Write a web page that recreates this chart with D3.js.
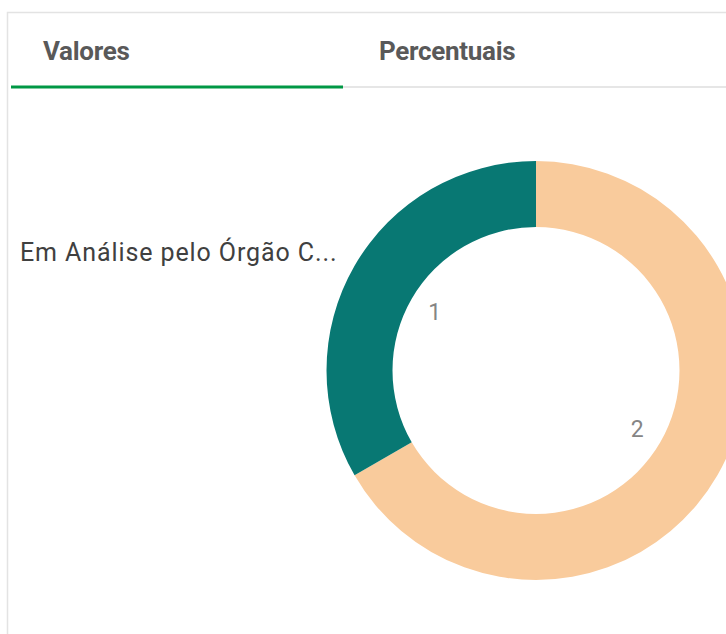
<!DOCTYPE html>
<html>
<head>
<meta charset="utf-8">
<script src="https://cdn.jsdelivr.net/npm/d3@7"></script>
<style>
  body { margin: 0; background: #fff; }
  svg { display: block; }
</style>
</head>
<body>
<div id="chart"></div>
<script>
// tabs, legend and slice data
var tabs = ["Valores", "Percentuais"];
var legendLabel = "Em Análise pelo Órgão C...";
var categories = ["b", "a"];
var values = [2, 1];
var colors = ["#f9cb9c", "#087873"];

var width = 726, height = 634;
var cx = 536, cy = 370.5, outerR = 209.5, innerR = 143.5, labelR = 117;

var svg = d3.select("#chart").append("svg")
    .attr("width", width)
    .attr("height", height);

//panel border (top and left)
svg.append("path")
    .attr("d", "M7.5,634 L7.5,12.5 L726,12.5")
    .attr("fill", "none")
    .attr("stroke", "#e3e3e3")
    .attr("stroke-width", 1.5);

//tab bar
var tabX = d3.scaleBand().domain(tabs).range([11, 675]);

svg.append("line")
    .attr("x1", 11).attr("x2", width)
    .attr("y1", 87).attr("y2", 87)
    .attr("stroke", "#e6e6e6")
    .attr("stroke-width", 2);

svg.append("rect")
    .attr("x", tabX(tabs[0]))
    .attr("y", 85.5)
    .attr("width", tabX.bandwidth())
    .attr("height", 3)
    .attr("fill", "#009845");

svg.selectAll(".tab")
    .data(tabs)
    .enter().append("text")
    .attr("class", "tab")
    .attr("x", function(d, i) { return i == 0 ? tabX(d) + 32 : tabX(d) + 36; })
    .attr("y", 60)
    .attr("font-family", "Roboto, sans-serif")
    .attr("font-weight", "bold")
    .attr("font-size", 26)
    .attr("letter-spacing", -0.3)
    .attr("fill", "#595959")
    .text(function(d) { return d; });

//legend / dimension label
svg.append("text")
    .attr("x", 20)
    .attr("y", 261)
    .attr("font-family", "Roboto, sans-serif")
    .attr("font-size", 25)
    .attr("letter-spacing", 0.9)
    .attr("fill", "#404040")
    .text(legendLabel);

//donut
var pie = d3.pie().sort(null).value(function(d) { return d; });
var arc = d3.arc().innerRadius(innerR).outerRadius(outerR);
var labelArc = d3.arc().innerRadius(labelR).outerRadius(labelR);

var g = svg.append("g").attr("transform", "translate(" + cx + "," + cy + ")");

var slices = pie(values);

g.selectAll(".slice")
    .data(slices)
    .enter().append("path")
    .attr("class", "slice")
    .attr("d", arc)
    .attr("fill", function(d, i) { return colors[i]; });

g.selectAll(".lbl")
    .data(slices)
    .enter().append("text")
    .attr("class", "lbl")
    .attr("transform", function(d) { return "translate(" + labelArc.centroid(d) + ")"; })
    .attr("text-anchor", "middle")
    .attr("dy", "0.35em")
    .attr("font-family", "Roboto, sans-serif")
    .attr("font-size", 23)
    .attr("fill", "#858585")
    .text(function(d) { return d.value; });
</script>
</body>
</html>
